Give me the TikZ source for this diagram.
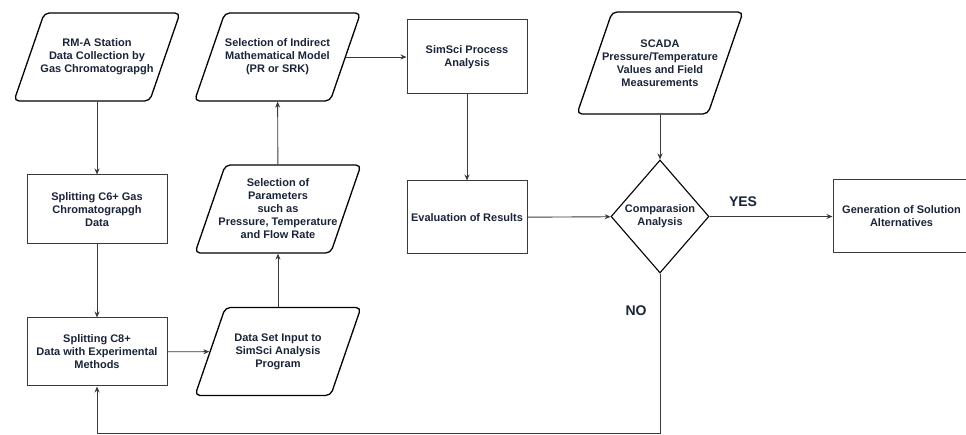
\documentclass[tikz,border=0pt]{standalone}
\usepackage{fontspec}
\setmainfont{Liberation Sans}
\usetikzlibrary{shapes.geometric,arrows.meta}
\definecolor{txtnavy}{HTML}{1A2438}
\definecolor{linegray}{HTML}{3A3A3A}
\tikzset{
  procbox/.style={draw=linegray, line width=1pt, minimum width=140pt, minimum height=69pt, align=center, inner sep=2pt},
  databox/.style={trapezium, trapezium left angle=71, trapezium right angle=109, draw=black, line width=1.3pt, rounded corners=5pt, inner xsep=52.7pt, inner ysep=44pt},
  decbox/.style={diamond, draw=black, line width=1.1pt, minimum width=98pt, minimum height=113pt, inner sep=0pt, align=center},
  flow/.style={draw=linegray, line width=0.9pt, -{Stealth[length=6pt,width=5pt]}},
  txt/.style={align=center, inner sep=0pt}
}
\begin{document}
\begin{tikzpicture}[x=1pt, y=1pt, every node/.style={text=txtnavy, font=\fontsize{11}{13}\selectfont\bfseries}]
            \useasboundingbox (0,0) rectangle (966,435);
            % Left column
            \node[databox] (rma) at (97,378) {};
            \node[txt] (rma-t) at (rma) {RM-A Station\\Data Collection by\\Gas Chromatograpgh};
            \node[procbox] (c6) at (97,225.5) {Splitting C6+ Gas\\Chromatograpgh\\Data};
            \node[procbox, minimum height=68pt] (c8) at (97,83) {Splitting C8+\\Data with Experimental\\Methods};
            % Second column
            \node[databox] (dataset) at (278,83.5) {};
            \node[txt] (dataset-t) at (dataset) {Data Set Input to\\SimSci Analysis\\Program};
            \node[databox] (param) at (278,226) {};
            \node[txt] (param-t) at (param) {Selection of\\Parameters\\such as\\Pressure, Temperature\\and Flow Rate};
            \node[databox] (model) at (277.5,378) {};
            \node[txt] (model-t) at (model) {Selection of Indirect\\Mathematical Model\\(PR or SRK)};
            % Third column
            \node[procbox, minimum width=120pt, minimum height=74pt] (simsci) at (467,378) {SimSci Process\\Analysis};
            \node[procbox, minimum width=120pt, minimum height=73pt] (eval) at (467,217.5) {Evaluation of Results};
            % Decision
            \node[databox, inner xsep=47.9pt, inner ysep=51pt] (scada) at (660,372) {};
            \node[txt] (scada-t) at (scada) {SCADA\\Pressure/Temperature\\Values and Field\\Measurements};
            \node[decbox] (comp) at (660,218.5) {Comparasion\\Analysis};
            \node[procbox, minimum width=137pt, minimum height=73pt] (gen) at (901.5,218.5) {Generation of Solution\\Alternatives};
            \node[font=\fontsize{14}{16}\selectfont\bfseries] (yes) at (743,233) {YES};
            \node[font=\fontsize{14}{16}\selectfont\bfseries] (no) at (636,124) {NO};
            \coordinate (loop) at (660,1.5);
            % Connectors
            \draw[flow] (rma) -- (c6);
            \draw[flow] (c6) -- (c8);
            \draw[flow] (c8) -- (dataset);
            \draw[flow] (dataset) -- (param);
            \draw[flow] (param) -- (model);
            \draw[flow] (model) -- (simsci);
            \draw[flow] (simsci) -- (eval);
            \draw[flow] (eval) -- (comp);
            \draw[flow] (scada) -- (comp);
            \draw[flow] (comp) -- (gen);
            \draw[flow] (comp.south) -- (loop) -| (c8.south);
        \end{tikzpicture}
\end{document}
